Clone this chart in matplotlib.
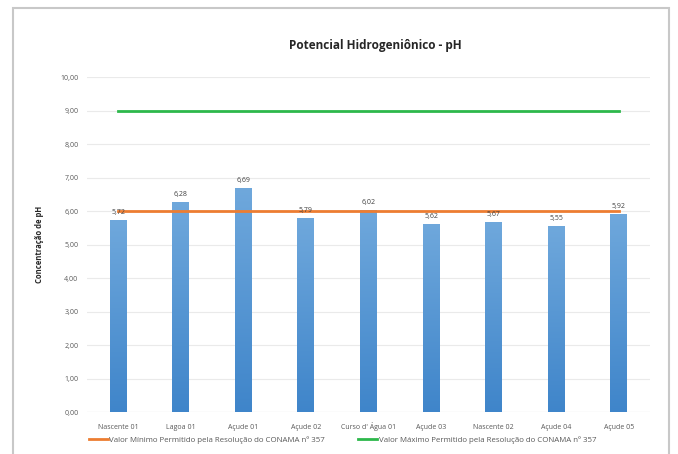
import numpy as np
import matplotlib
matplotlib.use("Agg")
import matplotlib.pyplot as plt
from matplotlib.patches import Rectangle
from matplotlib.lines import Line2D

# Data
pontos = ["Nascente 01", "Lagoa 01", "Açude 01", "Açude 02", "Curso d' Água 01",
          "Açude 03", "Nascente 02", "Açude 04", "Açude 05"]
ph = [5.72, 6.28, 6.69, 5.79, 6.02, 5.62, 5.67, 5.55, 5.92]
ph_min = 6.0
ph_max = 9.0
yticks = np.arange(0, 10.01, 1.0)

label_min = "Valor Mínimo Permitido pela Resolução do CONAMA nº 357"
label_max = "Valor Máximo Permitido pela Resolução do CONAMA nº 357"

plt.rcParams['font.family'] = ['Open Sans', 'DejaVu Sans']

fig = plt.figure(figsize=(6.78, 4.54), dpi=100)
ax = fig.add_axes([0.128, 0.0925, 0.831, 0.7375])

x = np.arange(len(pontos))
bars = ax.bar(x, ph, width=0.27, color="#5B9BD5", zorder=2)

# vertical gradient inside each bar
grad = np.linspace(0, 1, 256).reshape(-1, 1)
cmap = matplotlib.colors.LinearSegmentedColormap.from_list("bar", ["#3F85CA", "#6FA8DC"])
for b in bars:
    x0, y0 = b.get_x(), b.get_y()
    w, h = b.get_width(), b.get_height()
    im = ax.imshow(grad, extent=[x0, x0 + w, y0, y0 + h], origin="lower",
                   cmap=cmap, aspect="auto", zorder=2.1)
    im.set_clip_path(b)

ax.plot(x, [ph_min] * len(x), color="#ED7D31", lw=2.0, zorder=3, label=label_min)
ax.plot(x, [ph_max] * len(x), color="#2DB84B", lw=2.0, zorder=3, label=label_max)

for xi, v in zip(x, ph):
    ax.text(xi, v + 0.12, f"{v:.2f}".replace(".", ","), ha="center", va="bottom",
            fontsize=5, color="#404040", zorder=4)

ax.set_xlim(-0.5, len(pontos) - 0.5)
ax.set_ylim(0, 10)
ax.set_yticks(yticks)
ax.set_yticklabels([f"{t:.2f}".replace(".", ",") for t in yticks], fontsize=5, color="#595959")
ax.set_xticks(x)
ax.set_xticklabels(pontos, fontsize=5, color="#595959", va="baseline")
ax.tick_params(axis="y", length=0, pad=6)
ax.tick_params(axis="x", length=0, pad=12)
ax.grid(axis="y", color="#EAEAEA", lw=0.8, zorder=0)
for s in ax.spines.values():
    s.set_visible(False)
ax.axhline(0, color="#D9D9D9", lw=0.8, zorder=1)

ax.set_ylabel("Concentração de pH", fontsize=5.5, fontweight="bold", color="#262626", labelpad=12)
fig.text(0.5535, 0.9, "Potencial Hidrogeniônico - pH", ha="center", va="center",
         fontsize=8.5, fontweight="bold", color="#262626")

handles = [Line2D([0], [0], color="#ED7D31", lw=2), Line2D([0], [0], color="#2DB84B", lw=2)]
fig.legend(handles, [label_min, label_max], loc="center", bbox_to_anchor=(0.505, 0.03),
           ncol=2, frameon=False, fontsize=5.7, handlelength=2.4, handletextpad=0.2,
           columnspacing=4.2, labelcolor="#595959")

# outer frame
fig.patches.append(Rectangle((13 / 678, -0.01), (669 - 13) / 678, (450 - 4) / 454 + 0.01,
                             transform=fig.transFigure, fill=False, ec="#C8C8C8", lw=1.5))

fig.savefig("out.png", dpi=100, facecolor="white")
